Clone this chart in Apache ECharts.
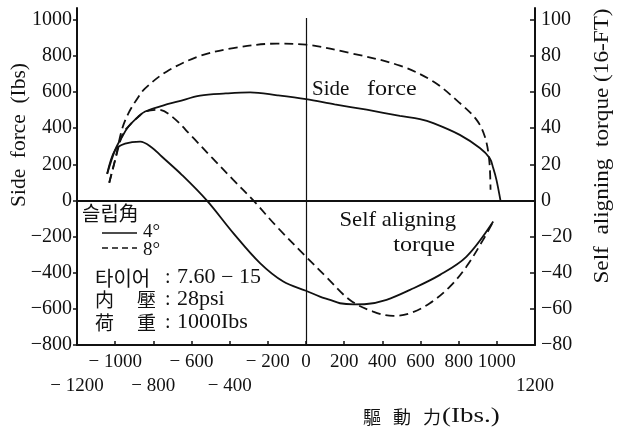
<!DOCTYPE html>
<html>
<head>
<meta charset="utf-8">
<script src="https://cdn.jsdelivr.net/npm/echarts@6/dist/echarts.min.js"></script>
<style>
  html, body { margin: 0; padding: 0; background: #fff; }
  #chart { width: 621px; height: 428px; }
</style>
</head>
<body>
<div id="chart"></div>
<script>
// Driving force (lbs) vs side force (lbs) and self aligning torque (lb-ft)
// Side force, slip angle 4° / 8°: [driving force, side force]
const sideForce4 = [
  [-1042, 147], [-1000, 280], [-965, 350], [-930, 409], [-880, 462], [-843, 492],
  [-750, 525], [-669, 548], [-555, 580], [-420, 592], [-293, 598], [-150, 582],
  [0, 561], [150, 532], [318, 502], [492, 468], [597, 450], [667, 428],
  [806, 363], [911, 290], [963, 234], [981, 179], [998, 114], [1019, 0]
];
const sideForce8 = [
  [-1031, 98], [-1000, 225], [-965, 391], [-930, 483], [-880, 570], [-843, 620],
  [-729, 714], [-555, 800], [-381, 843], [-153, 868], [0, 862], [230, 816],
  [492, 746], [667, 658], [806, 539], [894, 446], [937, 354], [960, 225], [967, 59]
];
// Self aligning torque, slip angle 4° / 8°: [driving force, torque]
const torque4 = [
  [-1042, 14.7], [-1000, 28], [-948, 31.4], [-869, 32.6], [-810, 29.5], [-756, 24.3],
  [-651, 14.2], [-520, 0], [-381, -18.1], [-241, -34.7], [-119, -44.9], [0, -50],
  [73, -53.2], [126, -55], [178, -56.9], [250, -57.5], [318, -57.3], [422, -55],
  [545, -49.5], [702, -41.2], [841, -31.1], [981, -11.7]
];
const torque8 = [
  [-1031, 9.8], [-1000, 22.5], [-960, 37], [-930, 41], [-880, 46.2], [-843, 49.2],
  [-773, 50.2], [-703, 46.5], [-598, 35.4], [-494, 23.8], [-381, 11.4], [-276, 0],
  [-154, -14.4], [0, -31.1], [108, -42.5], [230, -55.1], [352, -61.5], [457, -63.9],
  [545, -62.4], [649, -56.9], [754, -47.7], [841, -36.6], [928, -21.8], [981, -11.7]
];

// Tick labels
const xUpperLabels = [-1000, -600, -200, 0, 200, 400, 600, 800, 1000];
const xLowerLabels = [-1200, -800, -400, 1200];
const xTicks = [-1000, -800, -600, -400, -200, 0, 200, 400, 600, 800, 1000];
const sideForceTicks = [-800, -600, -400, -200, 0, 200, 400, 600, 800, 1000];
const torqueTicks = [-80, -60, -40, -20, 0, 20, 40, 60, 80, 100];

const INK = '#111';
const SERIF = 'Liberation Serif';
const CJK = 'Noto Sans CJK KR';

const neg = (v, sep) => v < 0 ? '\u2212' + sep + Math.abs(v) : String(v);

const chart = echarts.init(document.getElementById('chart'), null, { renderer: 'canvas' });

const curve = (name, data, yIdx, dashed) => ({
  name, type: 'line', data, yAxisIndex: yIdx, xAxisIndex: 0,
  smooth: 0.35, symbol: 'none', silent: true,
  lineStyle: { color: INK, width: 1.8, type: dashed ? [9, 5] : 'solid' }
});

const sf4 = curve('sf4', sideForce4, 0, false);
sf4.markLine = {
  silent: true, symbol: 'none', label: { show: false },
  lineStyle: { color: INK, type: 'solid', width: 1.8 },
  data: [
    { yAxis: 0 },
    [{ coord: [0, -800], lineStyle: { width: 1.2 } }, { coord: [0, 1010] }]
  ]
};

// Free text; sx widens the glyph run along its own direction
const txt = (text, x, y, opts) => {
  const o = opts || {};
  return {
    type: 'text', x, y, rotation: o.rot || 0, scaleX: o.sx || 1,
    style: Object.assign({
      text, fill: INK, font: `${o.size || 20}px "${o.family || SERIF}"`,
      align: 'left', verticalAlign: 'middle'
    }, o.style || {})
  };
};

chart.setOption({
  animation: false,
  backgroundColor: '#fff',
  grid: { left: 77, right: 86, top: 8, bottom: 83 },
  xAxis: [
    {
      type: 'value', min: -1200, max: 1200, interval: 200, position: 'bottom',
      axisLine: { show: true, onZero: false, lineStyle: { color: INK, width: 2 } },
      axisTick: { show: true, inside: true, length: 4, customValues: xTicks, lineStyle: { color: INK, width: 1.5 } },
      splitLine: { show: false },
      axisLabel: {
        customValues: xUpperLabels, margin: 8, color: INK, fontFamily: SERIF, fontSize: 19,
        formatter: v => neg(v, ' ')
      }
    },
    {
      type: 'value', min: -1200, max: 1200, interval: 200, position: 'bottom',
      axisLine: { show: false, onZero: false }, axisTick: { show: false }, splitLine: { show: false },
      axisLabel: {
        customValues: xLowerLabels, margin: 32, color: INK, fontFamily: SERIF, fontSize: 19,
        formatter: v => neg(v, ' ')
      }
    }
  ],
  yAxis: [
    {
      type: 'value', min: -800, max: 1065, interval: 200, position: 'left',
      axisLine: { show: true, onZero: false, lineStyle: { color: INK, width: 2 } },
      axisTick: { show: true, inside: false, length: 4, customValues: sideForceTicks, lineStyle: { color: INK, width: 1.5 } },
      splitLine: { show: false },
      axisLabel: {
        customValues: sideForceTicks, margin: 5, color: INK, fontFamily: SERIF, fontSize: 20,
        formatter: v => neg(v, '')
      }
    },
    {
      type: 'value', min: -80, max: 106.5, interval: 20, position: 'right',
      axisLine: { show: true, onZero: false, lineStyle: { color: INK, width: 2 } },
      axisTick: { show: true, inside: true, length: 5, customValues: torqueTicks, lineStyle: { color: INK, width: 1.5 } },
      splitLine: { show: false },
      axisLabel: {
        customValues: torqueTicks, margin: 6, color: INK, fontFamily: SERIF, fontSize: 20,
        formatter: v => neg(v, '')
      }
    }
  ],
  series: [
    sf4,
    curve('sf8', sideForce8, 0, true),
    curve('at4', torque4, 1, false),
    curve('at8', torque8, 1, true)
  ],
  graphic: [
    // axis titles
    txt('Side  force  (Ibs)', 20, 135, { rot: Math.PI / 2, sx: 1.07, style: { align: 'center' } }),
    txt('Self  aligning  torque (16-FT)', 603, 146, { rot: Math.PI / 2, sx: 1.16, style: { align: 'center' } }),
    txt('驅', 363, 417, { family: CJK, size: 18 }),
    txt('動', 393, 417, { family: CJK, size: 18 }),
    txt('力', 423, 417, { family: CJK, size: 18 }),
    txt('(Ibs.)', 442, 417, { size: 20, sx: 1.35 }),
    // curve captions
    txt('Side', 312, 89, { size: 21 }),
    txt('force', 367, 89, { size: 21, sx: 1.15 }),
    txt('Self aligning', 456, 220, { size: 21, sx: 1.08, style: { align: 'right' } }),
    txt('torque', 455, 245, { size: 21, sx: 1.15, style: { align: 'right' } }),
    // slip angle key
    txt('슬립角', 82, 213, { family: CJK, size: 20 }),
    { type: 'line', shape: { x1: 102, y1: 233, x2: 137, y2: 233 }, style: { stroke: INK, lineWidth: 1.5 } },
    { type: 'line', shape: { x1: 102, y1: 248, x2: 137, y2: 248 }, style: { stroke: INK, lineWidth: 1.5, lineDash: [6, 4] } },
    txt('4°', 143, 232, { size: 19 }),
    txt('8°', 143, 250, { size: 19 }),
    // tire conditions
    txt('타이어', 95, 278, { family: CJK, size: 20 }),
    txt(':', 165, 278, { size: 20 }),
    txt('7.60 \u2212 15', 177, 278, { size: 20, sx: 1.1 }),
    txt('内', 95, 300, { family: CJK, size: 19 }),
    txt('壓', 137, 300, { family: CJK, size: 19 }),
    txt(':', 165, 300, { size: 20 }),
    txt('28psi', 177, 300, { size: 20, sx: 1.1 }),
    txt('荷', 95, 323, { family: CJK, size: 19 }),
    txt('重', 137, 323, { family: CJK, size: 19 }),
    txt(':', 165, 323, { size: 20 }),
    txt('1000Ibs', 177, 323, { size: 20, sx: 1.1 })
  ]
});
</script>
</body>
</html>
